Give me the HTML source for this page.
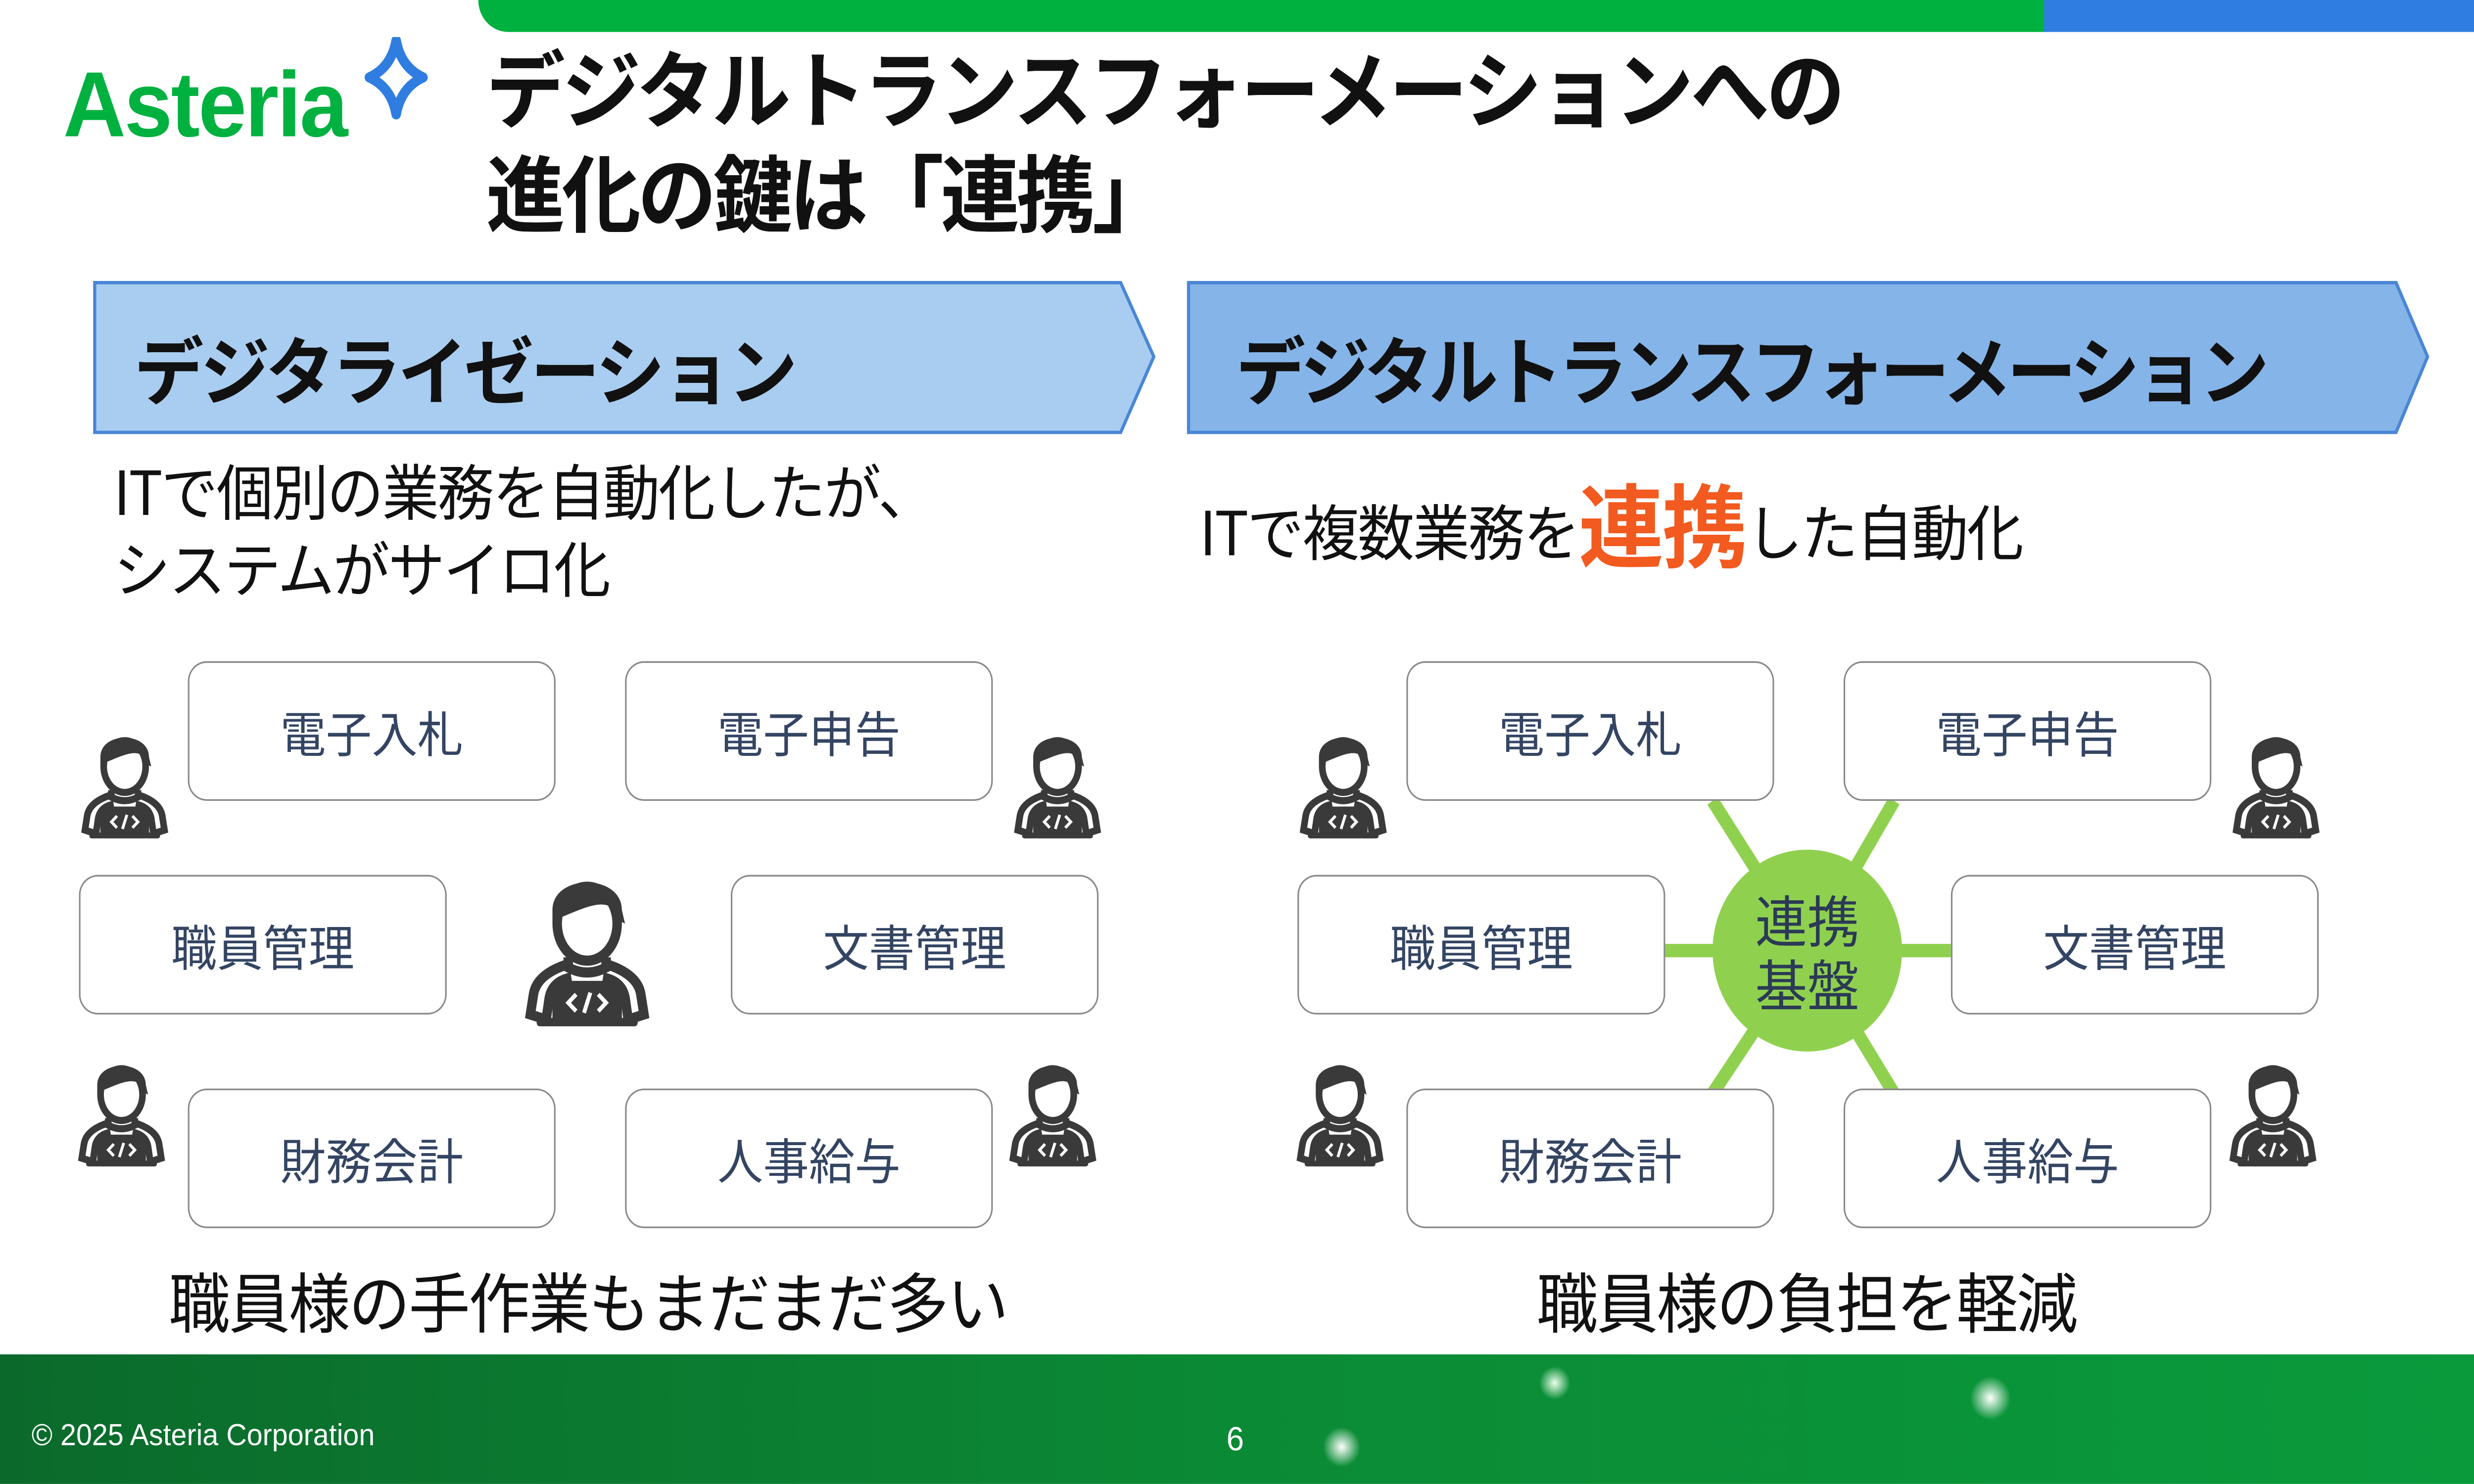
<!DOCTYPE html>
<html><head><meta charset="utf-8"><style>
html,body{margin:0;padding:0;background:#fff;overflow:hidden}
body{width:100vw;height:3000px;position:relative}
#s{position:absolute;left:0;top:0;width:1568px;height:882px;transform:scale(3.19,3.4012);transform-origin:0 0;font-family:"Liberation Sans","Noto Sans CJK JP",sans-serif}
.a{position:absolute;white-space:nowrap}
.b{position:absolute;width:231px;height:81px;border:1.5px solid #8a8a8a;border-radius:12px;background:#fff;display:flex;align-items:center;justify-content:center;font-size:29px;color:#344563;font-family:"Noto Sans CJK JP",sans-serif}
.p{position:absolute}
</style></head><body><div id="s">
<svg width="0" height="0" style="position:absolute"><defs>
<symbol id="pp" viewBox="0 0 100 100">
<path d="M28 30 C28 8 72 8 72 30 L74 38 L70 36 C66 20 50 28 34 34 L28 38 Z" fill="#3a3a3a"/>
<ellipse cx="50" cy="38" rx="19" ry="22" fill="none" stroke="#3a3a3a" stroke-width="6"/>
<path d="M38 58 L38 64 Q50 70 62 64 L62 58" fill="none" stroke="#3a3a3a" stroke-width="6"/>
<path d="M38 62 Q18 68 16 80 L14 92 L24 95 L26 82 Q28 72 40 70 M62 62 Q82 68 84 80 L86 92 L76 95 L74 82 Q72 72 60 70" fill="none" stroke="#3a3a3a" stroke-width="6"/>
<rect x="28" y="72" width="44" height="26" rx="2" fill="#3a3a3a"/>
<rect x="18" y="94" width="64" height="5" rx="2" fill="#3a3a3a"/>
<path d="M43 80 L38 85 L43 90 M57 80 L62 85 L57 90 M52 79 L48 91" fill="none" stroke="#fff" stroke-width="2.5"/>
</symbol></defs></svg>
<div class="a" style="left:303px;top:0;width:995px;height:19px;background:#00b140;border-bottom-left-radius:19px"></div>
<div class="a" style="left:1295px;top:0;width:273px;height:19px;background:#2f7de0"></div>
<div class="a" style="left:40px;top:30px;font-size:55px;font-weight:bold;color:#00b140;letter-spacing:-1px">Asteria</div>
<svg class="a" style="left:230px;top:22px" width="42" height="50" viewBox="0 0 42 50"><path d="M21 2 Q24 18 38 24 Q24 30 21 46 Q18 30 4 24 Q18 18 21 2Z" fill="none" stroke="#2f7de0" stroke-width="6" stroke-linejoin="round"/></svg>
<div class="a" style="left:308px;top:24px;font-size:50px;font-weight:bold;line-height:62px;color:#111;letter-spacing:-2px">デジタルトランスフォーメーションへの<br>進化の鍵は「連携」</div>
<svg class="a" style="left:0;top:0" width="1568" height="882">
<polygon points="60,168 710,168 731,212 710,257 60,257" fill="#a9cdf0" stroke="#4a86d6" stroke-width="2"/>
<polygon points="753,168 1518,168 1538,212 1518,257 753,257" fill="#85b4e8" stroke="#4a86d6" stroke-width="2"/>
<g stroke="#8fd14f" stroke-width="8">
<line x1="1145" y1="565" x2="1085" y2="476"/><line x1="1145" y1="565" x2="1200" y2="476"/>
<line x1="1145" y1="565" x2="1085" y2="650"/><line x1="1145" y1="565" x2="1200" y2="650"/>
<line x1="1055" y1="565" x2="1236" y2="565"/></g>
</svg>
<div class="a" style="left:85px;top:186px;font-size:44px;font-weight:bold;color:#111;letter-spacing:-2px">デジタライゼーション</div>
<div class="a" style="left:783px;top:186px;font-size:44px;font-weight:bold;color:#111;letter-spacing:-3px">デジタルトランスフォーメーション</div>
<div class="a" style="left:72px;top:268px;font-size:36px;line-height:46px;color:#111;font-family:'Noto Sans CJK JP',sans-serif;letter-spacing:-1px">ITで個別の業務を自動化したが、<br>システムがサイロ化</div>
<div class="a" style="left:760px;top:270px;font-size:36px;color:#111;font-family:'Noto Sans CJK JP',sans-serif;line-height:80px;letter-spacing:-1px">ITで複数業務を<span style="color:#f25a1f;font-weight:bold;font-size:54px;vertical-align:-3px">連携</span>した自動化</div>
<div class="b" style="left:119px;top:393px">電子入札</div>
<div class="b" style="left:396px;top:393px">電子申告</div>
<div class="b" style="left:50px;top:520px">職員管理</div>
<div class="b" style="left:463px;top:520px">文書管理</div>
<div class="b" style="left:119px;top:647px">財務会計</div>
<div class="b" style="left:396px;top:647px">人事給与</div>
<div class="b" style="left:891px;top:393px">電子入札</div>
<div class="b" style="left:1168px;top:393px">電子申告</div>
<div class="b" style="left:822px;top:520px">職員管理</div>
<div class="b" style="left:1236px;top:520px">文書管理</div>
<div class="b" style="left:891px;top:647px">財務会計</div>
<div class="b" style="left:1168px;top:647px">人事給与</div>
<div class="a" style="left:1085px;top:505px;width:120px;height:120px;border-radius:50%;background:#8fd14f;display:flex;align-items:center;justify-content:center;text-align:center;font-size:33px;line-height:38px;color:#2b3a55;font-family:'Noto Sans CJK JP',sans-serif">連携<br>基盤</div>
<svg class="p" style="left:44px;top:420px" width="70" height="88"><use href="#pp"/></svg>
<svg class="p" style="left:635px;top:420px" width="70" height="88"><use href="#pp"/></svg>
<svg class="p" style="left:42px;top:615px" width="70" height="88"><use href="#pp"/></svg>
<svg class="p" style="left:632px;top:615px" width="70" height="88"><use href="#pp"/></svg>
<svg class="p" style="left:322px;top:500px" width="100" height="122"><use href="#pp"/></svg>
<svg class="p" style="left:816px;top:420px" width="70" height="88"><use href="#pp"/></svg>
<svg class="p" style="left:1407px;top:420px" width="70" height="88"><use href="#pp"/></svg>
<svg class="p" style="left:814px;top:615px" width="70" height="88"><use href="#pp"/></svg>
<svg class="p" style="left:1405px;top:615px" width="70" height="88"><use href="#pp"/></svg>
<div class="a" style="left:0;width:745px;top:745px;text-align:center;font-size:39px;color:#111;font-family:'Noto Sans CJK JP',sans-serif;letter-spacing:-1px">職員様の手作業もまだまだ多い</div>
<div class="a" style="left:772px;width:745px;top:745px;text-align:center;font-size:39px;color:#111;font-family:'Noto Sans CJK JP',sans-serif;letter-spacing:-1px">職員様の負担を軽減</div>
<div class="a" style="left:0;top:805px;width:1568px;height:77px;background:linear-gradient(90deg,#0b6a2b,#0b8a35 50%,#0a9a3c)"></div>
<div class="a" style="left:20px;top:843px;font-size:18px;color:#fff">© 2025 Asteria Corporation</div>
<div class="a" style="left:777px;top:845px;font-size:20px;color:#fff">6</div>
<div class="a" style="left:838px;top:848px;width:24px;height:24px;border-radius:50%;background:radial-gradient(#fff,rgba(255,255,255,0) 70%)"></div>
<div class="a" style="left:1248px;top:818px;width:26px;height:26px;border-radius:50%;background:radial-gradient(#fff,rgba(255,255,255,0) 70%)"></div>
<div class="a" style="left:975px;top:812px;width:20px;height:20px;border-radius:50%;background:radial-gradient(#eaffea,rgba(255,255,255,0) 70%)"></div>
</div></body></html>
